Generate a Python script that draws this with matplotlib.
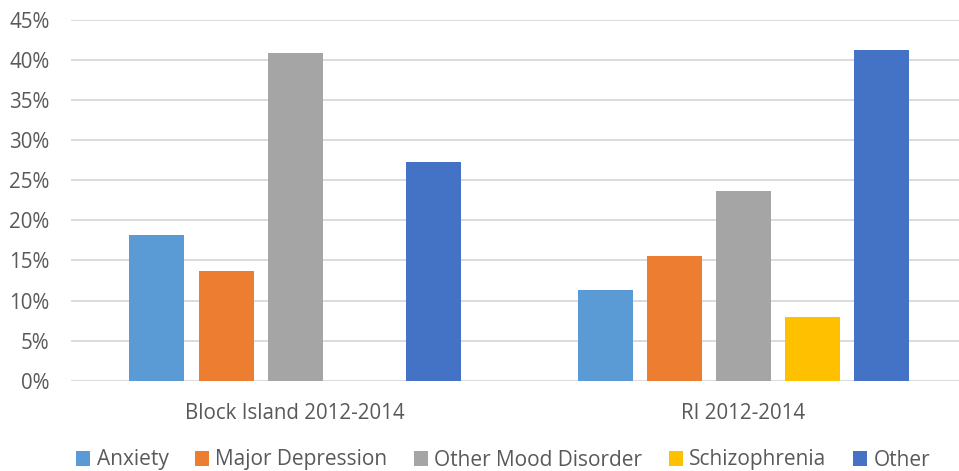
import numpy as np
import matplotlib.pyplot as plt
from matplotlib.ticker import PercentFormatter

groups = ["Block Island 2012-2014", "RI 2012-2014"]
series = ["Anxiety", "Major Depression", "Other Mood Disorder", "Schizophrenia", "Other"]
anxiety = [18.18, 11.35]
major_depression = [13.64, 15.5]
other_mood = [40.91, 23.7]
schizophrenia = [0.0, 8.0]
other = [27.27, 41.3]
colors = ["#5B9BD5", "#ED7D31", "#A5A5A5", "#FFC000", "#4472C4"]

values = [anxiety, major_depression, other_mood, schizophrenia, other]

plt.rcParams["font.family"] = ["Open Sans", "DejaVu Sans"]
text_color = "#595959"

fig = plt.figure(figsize=(9.59, 4.71), dpi=100)
W, H = 959, 471
ax = fig.add_axes([71 / W, (H - 380.7) / H, 896 / W, 360.7 / H])

x = np.arange(len(groups))
step = 69 / 448
width = 55 / 448
for i, (name, vals) in enumerate(zip(series, values)):
    ax.bar(x + (i - 2) * step, vals, width, color=colors[i], label=name, zorder=3)

ax.set_xlim(-0.5, 1.5)
ax.set_ylim(0, 45)
ax.set_yticks(np.arange(0, 46, 5))
ax.yaxis.set_major_formatter(PercentFormatter(decimals=0))
ax.set_xticks(x)
ax.set_xticklabels(groups)
ax.grid(axis="y", color="#d9d9d9", linewidth=1.3, zorder=0)
for s in ax.spines.values():
    s.set_visible(False)
ax.tick_params(axis="both", length=0, colors=text_color, labelsize=14.8)
ax.tick_params(axis="y", pad=15.5)
ax.tick_params(axis="x", pad=16)

fig.legend(loc="center", bbox_to_anchor=(503 / W, 1 - 460 / H), ncol=5,
           frameon=False, fontsize=15, labelcolor=text_color,
           handlelength=0.7, handleheight=0.7, handletextpad=0.3,
           columnspacing=1.25)

fig.savefig("out.png", dpi=100)
